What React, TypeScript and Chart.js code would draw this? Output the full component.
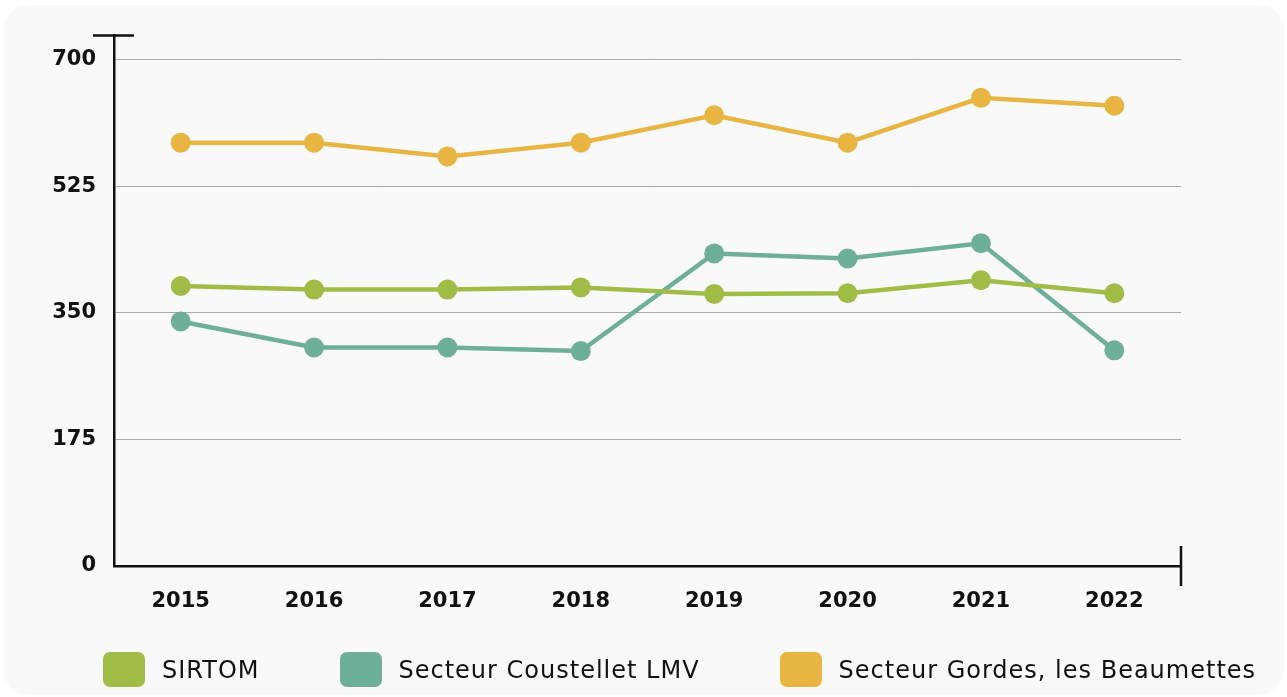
import React, { useEffect, useRef } from "react";
import { Chart, registerables } from "chart.js";

Chart.register(...registerables);

const years = ["2015", "2016", "2017", "2018", "2019", "2020", "2021", "2022"];
const sirtom = [387, 382, 382, 385, 376, 377, 395, 377];
const coustellet = [338, 302, 302, 297, 432, 425, 446, 298];
const gordes = [585, 585, 566, 585, 623, 585, 647, 636];
const yTicks = [0, 175, 350, 525, 700];

const seriesNames = ["SIRTOM", "Secteur Coustellet LMV", "Secteur Gordes, les Beaumettes"];
const seriesColors = ["#A0BC46", "#6DAF98", "#E8B543"];

const FONT = "'DejaVu Sans', sans-serif";

const capsPlugin = {
  id: "caps",
  afterDraw(chart: any) {
    const { ctx, chartArea } = chart;
    ctx.save();
    ctx.strokeStyle = "#111";
    ctx.lineWidth = 2.5;
    ctx.beginPath();
    ctx.moveTo(chartArea.left - 21, chartArea.top);
    ctx.lineTo(chartArea.left + 20, chartArea.top);
    ctx.moveTo(chartArea.right, chartArea.bottom - 20);
    ctx.lineTo(chartArea.right, chartArea.bottom + 20);
    ctx.stroke();
    ctx.restore();
  },
};

export default function App() {
  const ref = useRef<HTMLCanvasElement>(null);
  useEffect(() => {
    if (!ref.current) return;
    const data = [sirtom, coustellet, gordes];
    const chart = new Chart(ref.current, {
      type: "line",
      data: {
        labels: years,
        datasets: data.map((d, i) => ({
          label: seriesNames[i],
          data: d,
          borderColor: seriesColors[i],
          backgroundColor: seriesColors[i],
          pointBackgroundColor: seriesColors[i],
          pointBorderWidth: 0,
          pointRadius: 10,
          borderWidth: 4.5,
          tension: 0,
        })),
      },
      options: {
        animation: false,
        responsive: false,
        layout: { padding: { top: 30, right: 103, left: 0, bottom: 69 } },
        plugins: {
          tooltip: { enabled: false },
          legend: { display: false },
        },
        scales: {
          x: {
            offset: true,
            grid: { display: true, drawOnChartArea: false, drawTicks: false, color: "transparent" },
            border: { display: true, color: "#111", width: 2.5 },
            ticks: { color: "#111", padding: 23, font: { family: FONT, size: 21, weight: "bold" } },
            afterFit: (s: any) => { s.height = 60; },
          },
          y: {
            min: 0,
            max: 733,
            afterBuildTicks: (s: any) => { s.ticks = yTicks.map((v) => ({ value: v })); },
            grid: {
              drawTicks: false,
              color: (ctx: any) => (ctx.tick && ctx.tick.value > 0 && ctx.tick.value <= 700 ? "#aaaaaa" : "transparent"),
              lineWidth: 1,
            },
            border: { display: true, color: "#111", width: 2.5 },
            ticks: { color: "#111", padding: 18, font: { family: FONT, size: 21, weight: "bold" } },
            afterFit: (s: any) => { s.width = 111; },
          },
        },
      },
      plugins: [capsPlugin],
    });
    return () => chart.destroy();
  }, []);

  return (
    <div style={{ position: "fixed", left: 0, top: 0, width: 1287, height: 697, background: "#fff" }}>
      <div
        style={{
          position: "absolute",
          left: 3,
          top: 5,
          width: 1281,
          height: 690,
          background: "#f9f9f9",
          borderRadius: 26,
          overflow: "hidden",
        }}
      >
        <canvas ref={ref} width={1281} height={690} style={{ display: "block" }} />
        <div
          style={{
            position: "absolute",
            left: 100,
            top: 647,
            display: "flex",
            alignItems: "center",
            gap: 80,
            fontFamily: FONT,
            fontSize: 24,
            letterSpacing: 1,
            color: "#111",
            whiteSpace: "nowrap",
          }}
        >
          {seriesNames.map((n, i) => (
            <div key={n} style={{ display: "flex", alignItems: "center" }}>
              <div
                style={{
                  width: 42,
                  height: 35,
                  borderRadius: 7,
                  background: seriesColors[i],
                  marginRight: 17,
                }}
              />
              <span>{n}</span>
            </div>
          ))}
        </div>
      </div>
    </div>
  );
}
